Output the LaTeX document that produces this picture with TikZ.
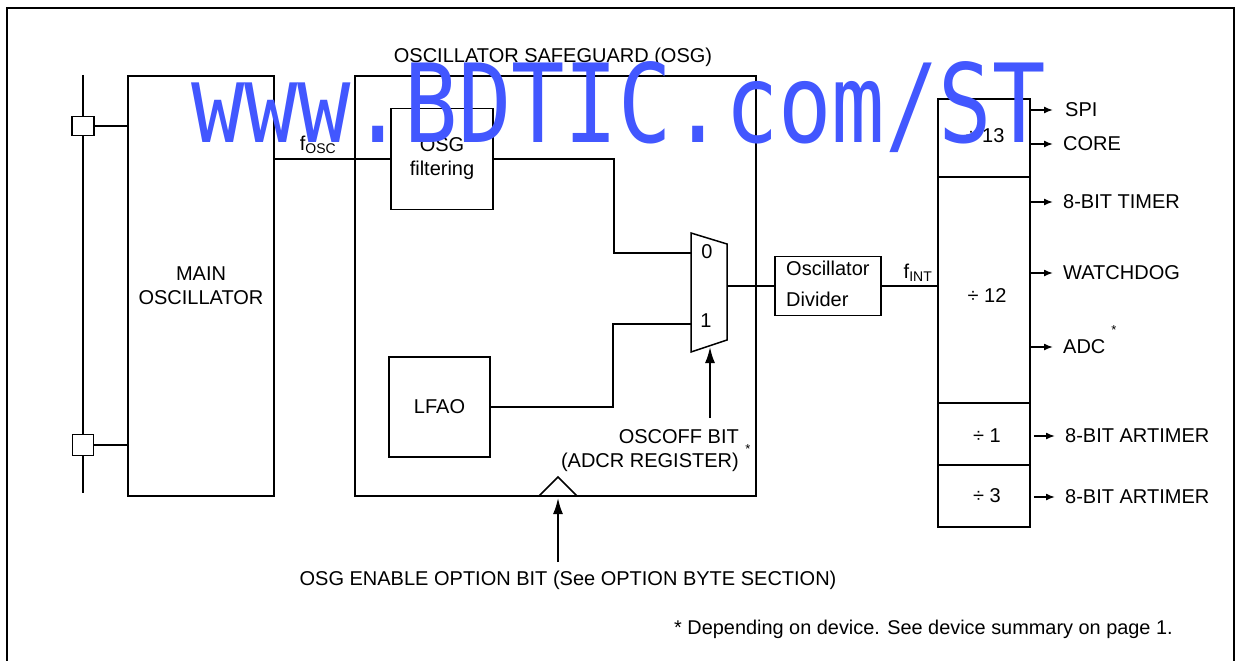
\documentclass[tikz,border=0pt]{standalone}
\usepackage{fontspec}
\setmainfont{Liberation Sans}
\newfontfamily\wmfont{DejaVu Sans Mono}
\usetikzlibrary{arrows.meta}
\definecolor{wmblue}{RGB}{66,87,255}
\tikzset{
  box/.style={draw, line width=1.8pt, inner sep=0pt, align=center, font=\fontsize{20}{24}\selectfont},
  lbl/.style={inner sep=0pt, font=\fontsize{20}{24}\selectfont},
  wire/.style={line width=1.5pt},
  outarr/.style={line width=1.5pt, -{Latex[length=9pt,width=7pt]}},
  bigarr/.style={line width=1.8pt, -{Latex[length=16pt,width=10pt]}},
}
\begin{document}
\begin{tikzpicture}[x=1pt,y=-1pt]
\useasboundingbox (0,0) rectangle (1237,661);
% frame
\draw[line width=2.4pt] (7,661) -- (7,8) -- (1234,8) -- (1234,661);

% left bus
\coordinate (bustop) at (83,75);
\coordinate (busbot) at (83,493);
\draw[wire, line width=1.8pt] (bustop) -- (busbot);
\node[box, fill=white, minimum width=22pt, minimum height=19pt] (sq1) at (83,126) {};
\node[box, fill=white, minimum width=21pt, minimum height=21pt] (sq2) at (83,445) {};

% main oscillator
\node[box, minimum width=146pt, minimum height=420pt] (mo) at (201,286) {MAIN\\OSCILLATOR};
\draw[wire] (sq1.east) -- (sq1.east -| mo.west);
\draw[wire] (sq2.east) -- (sq2.east -| mo.west);

% OSG
\node[box, minimum width=401pt, minimum height=420pt] (osg) at (555.5,286) {};
\node[lbl, anchor=base] (osgt) at (553,63) {OSCILLATOR SAFEGUARD (OSG)};
\node[box, minimum width=102pt, minimum height=101pt] (filt) at (442,159) {OSG\\filtering};
\node[box, minimum width=101pt, minimum height=100pt] (lfao) at (439.5,407) {LFAO};
\draw[wire] (mo.east |- filt.west) -- (filt.west);
\node[lbl, anchor=base] (fosc) at (318,150) {f\textsubscript{OSC}};

% mux
\coordinate (m1) at (691,233);
\coordinate (m2) at (727,244);
\coordinate (m3) at (727,340);
\coordinate (m4) at (691,352);
\draw[line width=1.5pt] (m1) -- (m2) -- (m3) -- (m4) -- cycle;
\coordinate (in0) at (691,253);
\coordinate (in1) at (691,324);
\coordinate (mout) at (727,286);
\coordinate (msel) at (710,347);
\node[lbl, anchor=base] (l0) at (707,258) {0};
\node[lbl, anchor=base] (l1) at (706,327) {1};
\draw[wire] (filt.east) -- (614,159) |- (in0);
\draw[wire] (lfao.east) -- (613,407) |- (in1);

% oscoff
\node[lbl, align=right, anchor=east] (oscoff) at (739,451) {OSCOFF BIT\\(ADCR REGISTER)};
\node[inner sep=0pt, font=\fontsize{13}{13}\selectfont] (st1) at (748,449) {*};
\coordinate (oscsrc) at (710,418);
\draw[bigarr] (oscsrc) -- (msel);

% divider
\node[box, minimum width=106pt, minimum height=59pt] (div) at (828,286) {};
\node[lbl, anchor=base west] (divt1) at (786,275) {Oscillator};
\node[lbl, anchor=base west] (divt2) at (786,306) {Divider};
\draw[wire] (mout) -- (div.west);

% right column
\node[box, minimum width=92pt, minimum height=78pt] (d13) at (984,138) {};
\node[box, minimum width=92pt, minimum height=226pt] (d12) at (984,290) {};
\node[box, minimum width=92pt, minimum height=62pt] (d1) at (984,434) {};
\node[box, minimum width=92pt, minimum height=62pt] (d3) at (984,496) {};
\node[lbl] (t13) at (985,136) {÷ 13};
\node[lbl] (t12) at (987,296) {÷ 12};
\node[lbl] (t1) at (987,436) {÷ 1};
\node[lbl] (t3) at (987,496) {÷ 3};
\draw[wire] (div.east) -- (div.east -| d12.west);
\node[lbl, anchor=base] (fint) at (918,278) {f\textsubscript{INT}};

% outputs
\node[lbl, anchor=west] (spi) at (1065,110) {SPI};
\node[lbl, anchor=west] (core) at (1063,144) {CORE};
\node[lbl, anchor=west] (tim) at (1063,202) {8-BIT TIMER};
\node[lbl, anchor=west] (wdg) at (1063,273) {WATCHDOG};
\node[lbl, anchor=west] (adc) at (1063,347) {ADC};
\node[inner sep=0pt, font=\fontsize{13}{13}\selectfont] (st2) at (1114,330) {*};
\node[lbl, anchor=west] (art1) at (1065,436) {8-BIT ARTIMER};
\node[lbl, anchor=west] (art3) at (1065,497) {8-BIT ARTIMER};
\draw[outarr, shorten >=12pt] (d13.east |- spi.west) -- (spi.west);
\draw[outarr, shorten >=10pt] (d13.east |- core.west) -- (core.west);
\draw[outarr, shorten >=10pt] (d12.east |- tim.west) -- (tim.west);
\draw[outarr, shorten >=10pt] (d12.east |- wdg.west) -- (wdg.west);
\draw[outarr, shorten >=10pt] (d12.east |- adc.west) -- (adc.west);
\draw[outarr, shorten <=3pt, shorten >=10pt] (d1.east |- art1.west) -- (art1.west);
\draw[outarr, shorten <=3pt, shorten >=10pt] (d3.east |- art3.west) -- (art3.west);

% enable
\coordinate (t1c) at (539,496);
\coordinate (t2c) at (558,477);
\coordinate (t3c) at (577,496);
\draw[line width=1.5pt] (t1c) -- (t2c) -- (t3c);
\node[lbl, anchor=base] (en) at (568,585) {OSG ENABLE OPTION BIT (See OPTION BYTE SECTION)};
\coordinate (ensrc) at (558,562);
\coordinate (endst) at (558,498);
\draw[bigarr] (ensrc) -- (endst);

% footnote
\node[lbl, anchor=base west, font=\fontsize{19.9}{24}\selectfont] (fn) at (674,634) {* Depending on device. See device summary on page 1.};

% watermark
\node[inner sep=0pt, anchor=base west, text=wmblue] (wm) at (191,142) {\scalebox{1}[1.23]{\wmfont\fontsize{88.7}{90}\selectfont www.BDTIC.com/ST}};
\end{tikzpicture}
\end{document}
